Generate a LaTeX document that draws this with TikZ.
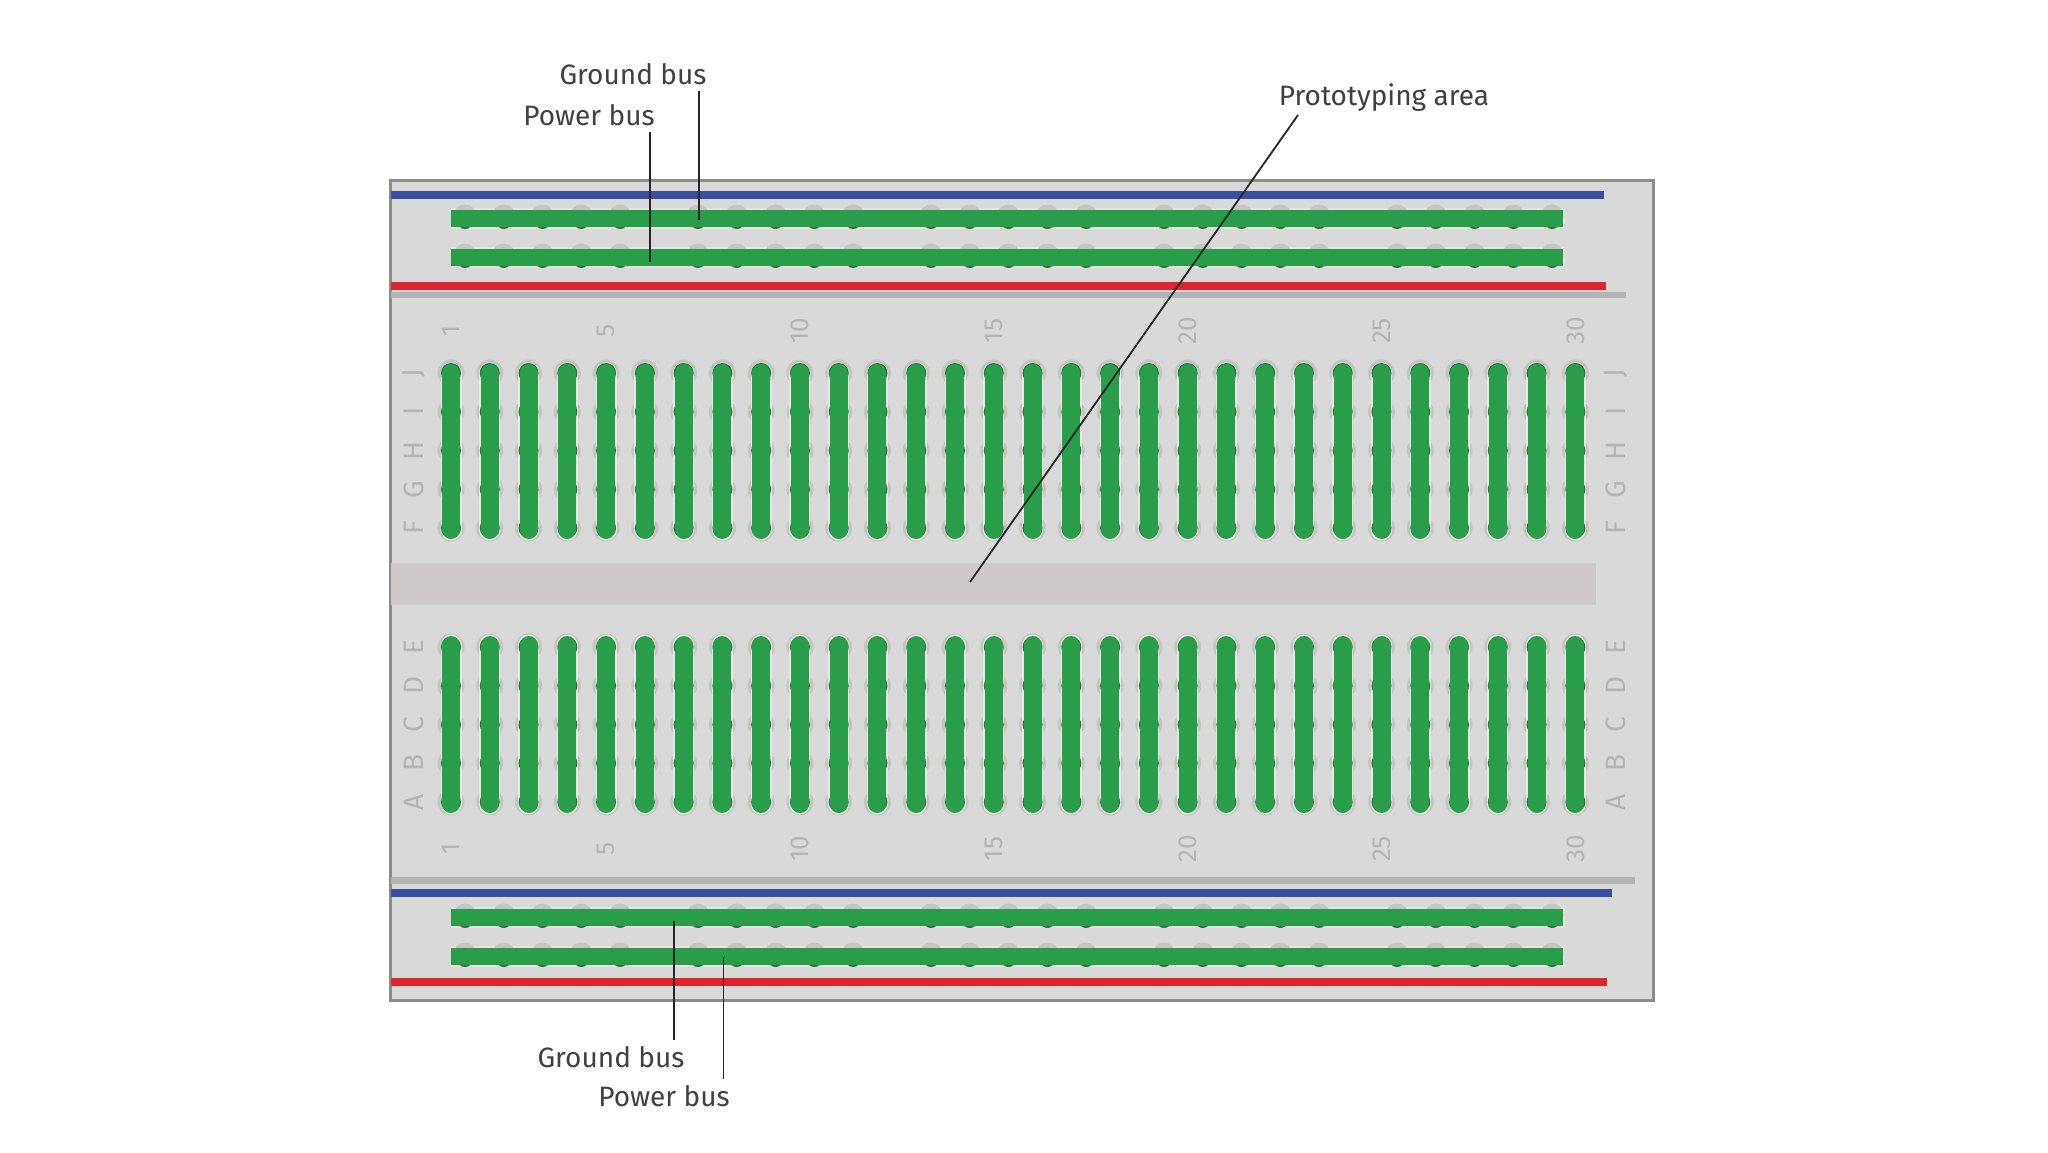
\documentclass[tikz,border=0pt]{standalone}
\usepackage{fontspec}
\setmainfont{Fira Sans}
\usetikzlibrary{positioning}
\definecolor{boardgrey}{HTML}{D9D9D9}
\definecolor{grooveg}{HTML}{CFCACA}
\definecolor{edgegrey}{HTML}{8C8C8C}
\definecolor{ruleg}{HTML}{B4B4B4}
\definecolor{busblue}{HTML}{3B4FA0}
\definecolor{busred}{HTML}{E0242E}
\definecolor{stripgreen}{HTML}{2A9D4A}
\definecolor{stripdark}{HTML}{24713F}
\definecolor{holegrey}{HTML}{C4C6C2}
\definecolor{printgrey}{HTML}{B4B4B4}
\tikzset{
  callout/.style={font=\fontsize{14}{16}\selectfont, text=black!75, inner sep=0pt},
  leader/.style={draw=black!85, line width=0.9pt},
  colnum/.style={font=\fontsize{13}{15}\selectfont, text=printgrey, rotate=90, inner sep=0pt},
  rowlet/.style={font=\fontsize{14}{16}\selectfont, text=printgrey, rotate=90, inner sep=0pt},
  railline/.style={line width=4pt},
  busbar/.style={fill=stripgreen, draw=none},
}
\begin{document}
\begin{tikzpicture}[x=0.5pt,y=-0.5pt]
    \useasboundingbox (0,0) rectangle (2048,1152);
    % board
    \fill[white] (0,0) rectangle (2048,1152);
    \draw[fill=boardgrey, draw=edgegrey, line width=1.5pt] (390,180) rectangle (1653,1000);
    \fill[grooveg] (391,563) rectangle (1596,605);
    % rails
    \draw[railline, busblue] (391,195) -- (1604,195);
    \draw[railline, busred] (391,286) -- (1606,286);
    \draw[line width=3pt, ruleg] (391,295) -- (1626,295);
    \draw[line width=3.5pt, ruleg] (391,880) -- (1635,880);
    \draw[railline, busblue] (391,893) -- (1612,893);
    \draw[railline, busred] (391,982) -- (1607,982);
    % bus holes
    \foreach \busy in {218,257,917,956} {
        \fill[boardgrey!70!white] (451,\busy-10) rectangle (1565,\busy+11);
        \foreach \grp in {0,...,4} {
            \foreach \hole in {0,...,4} {
                \fill[holegrey] (465+233*\grp+38.77*\hole,\busy-2) circle (11.5);
                \fill[stripdark] (465+233*\grp+38.77*\hole,\busy+3) circle (8);
            }
        }
        \fill[busbar] (451,\busy-8.5) rectangle (1563,\busy+8.5);
    }
    % strips
    \foreach \stripc in {0,...,29} {
        \foreach \rowy in {373,411.8,450.5,489.3,528,647,685.8,724.5,763.3,802} {
            \fill[holegrey] (451+38.77*\stripc,\rowy) circle (13.5);
        }
        \draw[boardgrey!60!white, line width=10.5pt, line cap=round] (451+38.77*\stripc,373) -- (451+38.77*\stripc,530);
        \draw[boardgrey!60!white, line width=10.5pt, line cap=round] (451+38.77*\stripc,645) -- (451+38.77*\stripc,804);
        \foreach \rowy in {373,411.8,450.5,489.3,528,647,685.8,724.5,763.3,802} {
            \fill[stripdark] (451+38.77*\stripc,\rowy) circle (10);
        }
        \draw[stripgreen, line width=9pt, line cap=round] (451+38.77*\stripc,373) -- (451+38.77*\stripc,530);
        \draw[stripgreen, line width=9pt, line cap=round] (451+38.77*\stripc,645) -- (451+38.77*\stripc,804);
    }
    % column numbers
    \foreach \colnr/\stripc in {1/0,5/4,10/9,15/14,20/19,25/24,30/29} {
        \node[colnum] (top\colnr) at (451+38.77*\stripc,331) {\colnr};
        \node[colnum] (bot\colnr) at (451+38.77*\stripc,849) {\colnr};
    }
    % row letters
    \foreach \rowname/\rowy in {J/373,I/411.8,H/450.5,G/489.3,F/528,E/647,D/685.8,C/724.5,B/763.3,A/802} {
        \node[rowlet] (left\rowname) at (414,\rowy) {\rowname};
        \node[rowlet] (right\rowname) at (1616,\rowy) {\rowname};
    }
    % callouts
    \node[callout] (groundtop) at (633,74) {Ground bus};
    \node[callout] (powertop) at (589,115) {Power bus};
    \node[callout] (proto) at (1384,98) {Prototyping area};
    \node[callout] (groundbot) at (611,1057) {Ground bus};
    \node[callout] (powerbot) at (664,1096) {Power bus};
    \coordinate (groundtopend) at (699,220);
    \coordinate (powertopend) at (650,262);
    \coordinate (protostart) at (1298,115);
    \coordinate (protoend) at (970,582);
    \coordinate (groundbotend) at (674,921);
    \coordinate (powerbotend) at (723.5,957);
    \draw[leader, shorten <=3pt] (groundtop.south -| groundtopend) -- (groundtopend);
    \draw[leader, shorten <=3pt] (powertop.south -| powertopend) -- (powertopend);
    \draw[leader] (protostart) -- (protoend);
    \draw[leader, shorten <=3pt] (groundbot.north -| groundbotend) -- (groundbotend);
    \draw[leader, shorten <=3pt] (powerbot.north -| powerbotend) -- (powerbotend);
\end{tikzpicture}
\end{document}
